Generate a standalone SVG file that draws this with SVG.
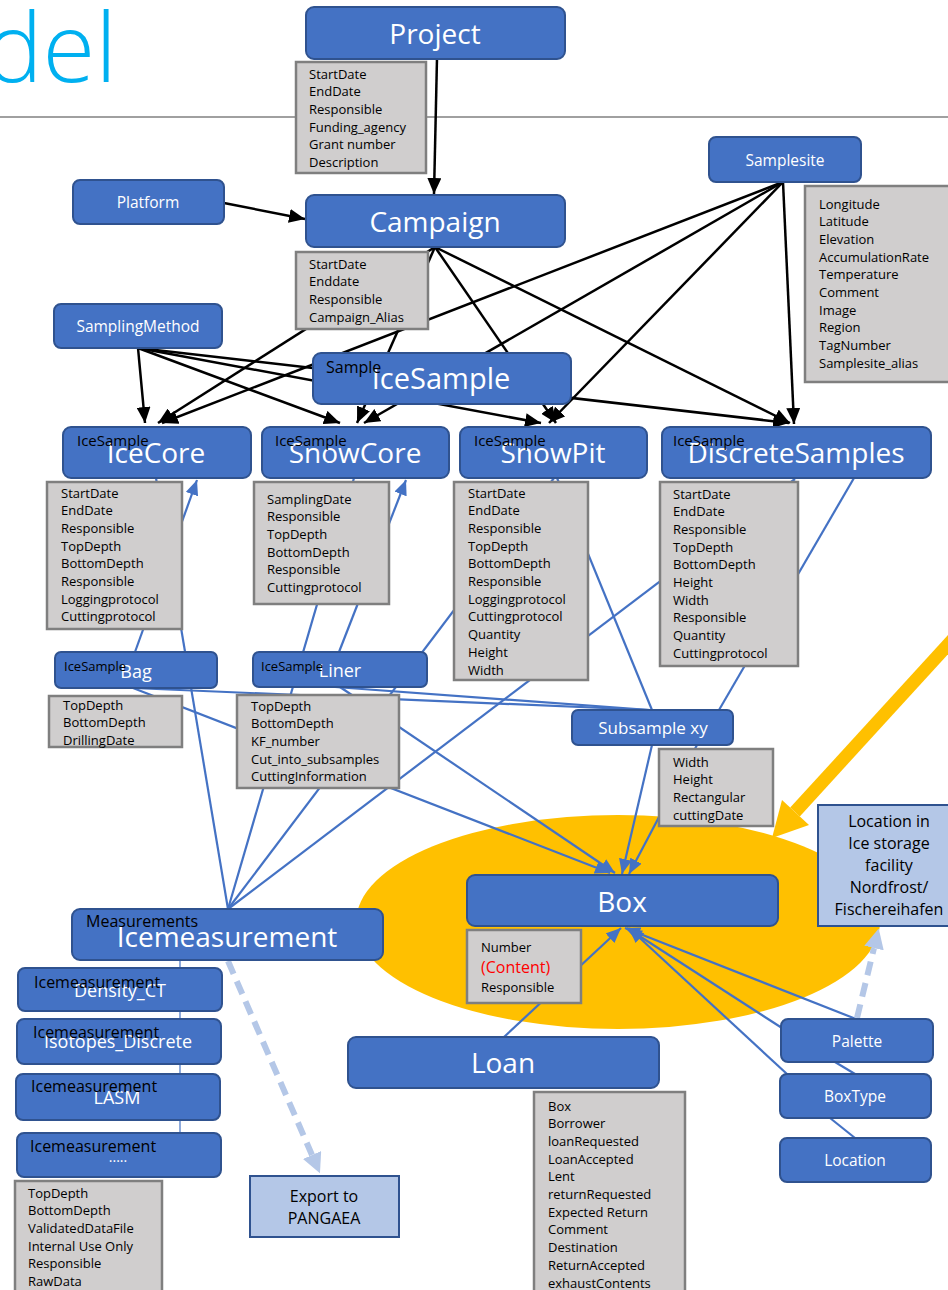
<svg xmlns="http://www.w3.org/2000/svg" width="948" height="1290" viewBox="0 0 948 1290">
<defs>
<style>
.n{fill:#4472C4;stroke:#2F528F;stroke-width:2}
.a{fill:#D0CECE;stroke:#7F7F7F;stroke-width:2.5}
.lb{fill:#B4C7E7;stroke:#2F528F;stroke-width:2}
text{font-family:"Open Sans","Liberation Sans",sans-serif}
.w{fill:#fff}
.k{fill:#000}
.c{text-anchor:middle}
.big{font-size:28px}
.md{font-size:18px}
.sm{font-size:15.5px}
.ov{font-size:15px}
.at{font-size:13px;fill:#000}
.bl{stroke:#000;stroke-width:2.5;fill:none;marker-end:url(#ak)}
.bu{stroke:#4472C4;stroke-width:2.2;fill:none}
.ba{marker-end:url(#ab)}
.dl{stroke:#B4C7E7;stroke-width:6;fill:none;stroke-dasharray:14 8;marker-end:url(#al)}
</style>
<marker id="ak" markerUnits="userSpaceOnUse" markerWidth="16" markerHeight="14" viewBox="0 0 16 14" refX="16" refY="7" orient="auto"><path d="M0,0 L16,7 L0,14 z" fill="#000"/></marker>
<marker id="ab" markerUnits="userSpaceOnUse" markerWidth="15" markerHeight="13" viewBox="0 0 15 13" refX="15" refY="6.5" orient="auto"><path d="M0,0 L15,6.5 L0,13 z" fill="#4472C4"/></marker>
<marker id="al" markerUnits="userSpaceOnUse" markerWidth="20" markerHeight="20" viewBox="0 0 20 20" refX="0" refY="10" orient="auto"><path d="M0,0 L20,10 L0,20 z" fill="#B4C7E7"/></marker>
</defs>
<rect width="948" height="1290" fill="#fff"/>
<ellipse cx="618" cy="922" rx="262" ry="107" fill="#FFC000"/>
<line x1="0" y1="117" x2="948" y2="117" stroke="#808080" stroke-width="1.7"/>
<text x="117" y="82" font-size="96" fill="#00B0F0" text-anchor="end" font-weight="300">del</text>

<g id="bigarrow">
<line x1="965" y1="626" x2="795" y2="812" stroke="#FFC000" stroke-width="13"/>
<polygon points="772,838 782,800 809,825" fill="#FFC000"/>
</g>

<g id="connectors">
<line class="bl" x1="437" y1="58" x2="434" y2="194"/>
<line class="bl" x1="224" y1="203" x2="305" y2="219"/>
<line class="bl" x1="783" y1="182" x2="162" y2="423"/>
<line class="bl" x1="783" y1="182" x2="364" y2="423"/>
<line class="bl" x1="783" y1="182" x2="549" y2="423"/>
<line class="bl" x1="783" y1="182" x2="794" y2="424"/>
<line class="bl" x1="435" y1="247" x2="158" y2="423"/>
<line class="bl" x1="435" y1="247" x2="357" y2="423"/>
<line class="bl" x1="435" y1="247" x2="556" y2="423"/>
<line class="bl" x1="435" y1="247" x2="790" y2="423"/>
<line class="bl" x1="138" y1="348" x2="145" y2="423"/>
<line class="bl" x1="138" y1="348" x2="340" y2="423"/>
<line class="bl" x1="138" y1="348" x2="541" y2="423"/>
<line class="bl" x1="138" y1="348" x2="789" y2="423"/>

<line class="bu ba" x1="135" y1="652" x2="197" y2="480"/>
<line class="bu ba" x1="339" y1="652" x2="406" y2="480"/>
<line class="bu" x1="228" y1="909" x2="156" y2="478"/>
<line class="bu" x1="228" y1="909" x2="354" y2="478"/>
<line class="bu" x1="228" y1="909" x2="554" y2="478"/>
<line class="bu" x1="228" y1="909" x2="795" y2="479"/>
<line class="bu" x1="854" y1="478" x2="719" y2="710"/>
<line class="bu" x1="557" y1="478" x2="652" y2="710"/>
<line class="bu" x1="133" y1="688" x2="650" y2="710"/>
<line class="bu" x1="335" y1="687" x2="650" y2="710"/>
<line class="bu ba" x1="133" y1="688" x2="610" y2="873"/>
<line class="bu ba" x1="340" y1="687" x2="615" y2="873"/>
<line class="bu ba" x1="652" y1="745" x2="622" y2="874"/>
<line class="bu ba" x1="697" y1="745" x2="629" y2="874"/>
<line class="bu ba" x1="504" y1="1037" x2="621" y2="928"/>
<line class="bu ba" x1="856" y1="1019" x2="625" y2="928"/>
<line class="bu ba" x1="782" y1="1028" x2="627" y2="928"/>
<line class="bu ba" x1="787" y1="1074" x2="629" y2="928"/>
<line class="bu" x1="835" y1="1062" x2="855" y2="1074"/>
<line class="bu" x1="830" y1="1118" x2="855" y2="1138"/>
<line x1="180" y1="960" x2="180" y2="1133" stroke="#4472C4" stroke-width="1.2"/>
<line class="dl" x1="228" y1="961" x2="312" y2="1155"/>
<line class="dl" x1="857" y1="1018" x2="874" y2="948"/>
</g>

<g id="project">
<rect class="n" x="306" y="7" width="259" height="52" rx="8"/>
<text class="w big c" x="435" y="44">Project</text>
<rect class="a" x="296" y="62" width="130" height="111"/>
<text class="at" x="309" y="78.5"><tspan x="309">StartDate</tspan><tspan x="309" dy="17.7">EndDate</tspan><tspan x="309" dy="17.7">Responsible</tspan><tspan x="309" dy="17.7">Funding_agency</tspan><tspan x="309" dy="17.7">Grant number</tspan><tspan x="309" dy="17.7">Description</tspan></text>
</g>

<g id="platform">
<rect class="n" x="73" y="180" width="151" height="44" rx="7"/>
<text class="w sm c" x="148" y="208">Platform</text>
</g>

<g id="campaign">
<rect class="n" x="306" y="195" width="259" height="52" rx="8"/>
<text class="w big c" x="435" y="232">Campaign</text>
<rect class="a" x="296" y="252" width="132" height="77"/>
<text class="at" x="309" y="268.5"><tspan x="309">StartDate</tspan><tspan x="309" dy="17.7">Enddate</tspan><tspan x="309" dy="17.7">Responsible</tspan><tspan x="309" dy="17.7">Campaign_Alias</tspan></text>
</g>

<g id="samplesite">
<rect class="n" x="709" y="137" width="152" height="45" rx="7"/>
<text class="w sm c" x="785" y="166">Samplesite</text>
<rect class="a" x="805" y="186" width="150" height="196"/>
<text class="at" x="819" y="208.5"><tspan x="819">Longitude</tspan><tspan x="819" dy="17.7">Latitude</tspan><tspan x="819" dy="17.7">Elevation</tspan><tspan x="819" dy="17.7">AccumulationRate</tspan><tspan x="819" dy="17.7">Temperature</tspan><tspan x="819" dy="17.7">Comment</tspan><tspan x="819" dy="17.7">Image</tspan><tspan x="819" dy="17.7">Region</tspan><tspan x="819" dy="17.7">TagNumber</tspan><tspan x="819" dy="17.7">Samplesite_alias</tspan></text>
</g>

<g id="samplingmethod">
<rect class="n" x="54" y="304" width="168" height="44" rx="7"/>
<text class="w sm c" x="138" y="332">SamplingMethod</text>
</g>

<g id="icesample">
<rect class="n" x="313" y="353" width="258" height="51" rx="8"/>
<text class="w c" font-size="29" x="441" y="389">IceSample</text>
<text class="k" font-size="16" x="326" y="373">Sample</text>
</g>

<g id="icecore">
<rect class="n" x="63" y="427" width="188" height="51" rx="8"/>
<text class="w big c" x="156" y="463">IceCore</text>
<text class="k ov" x="77" y="446">IceSample</text>
<rect class="a" x="47" y="482" width="135" height="147"/>
<text class="at" x="61" y="497.5"><tspan x="61">StartDate</tspan><tspan x="61" dy="17.7">EndDate</tspan><tspan x="61" dy="17.7">Responsible</tspan><tspan x="61" dy="17.7">TopDepth</tspan><tspan x="61" dy="17.7">BottomDepth</tspan><tspan x="61" dy="17.7">Responsible</tspan><tspan x="61" dy="17.7">Loggingprotocol</tspan><tspan x="61" dy="17.7">Cuttingprotocol</tspan></text>
</g>

<g id="snowcore">
<rect class="n" x="262" y="427" width="187" height="51" rx="8"/>
<text class="w big c" x="355" y="463">SnowCore</text>
<text class="k ov" x="275" y="446">IceSample</text>
<rect class="a" x="254" y="482" width="135" height="122"/>
<text class="at" x="267" y="503.5"><tspan x="267">SamplingDate</tspan><tspan x="267" dy="17.7">Responsible</tspan><tspan x="267" dy="17.7">TopDepth</tspan><tspan x="267" dy="17.7">BottomDepth</tspan><tspan x="267" dy="17.7">Responsible</tspan><tspan x="267" dy="17.7">Cuttingprotocol</tspan></text>
</g>

<g id="snowpit">
<rect class="n" x="460" y="427" width="187" height="51" rx="8"/>
<text class="w big c" x="553" y="463">SnowPit</text>
<text class="k ov" x="474" y="446">IceSample</text>
<rect class="a" x="454" y="482" width="134" height="198"/>
<text class="at" x="468" y="497.5"><tspan x="468">StartDate</tspan><tspan x="468" dy="17.7">EndDate</tspan><tspan x="468" dy="17.7">Responsible</tspan><tspan x="468" dy="17.7">TopDepth</tspan><tspan x="468" dy="17.7">BottomDepth</tspan><tspan x="468" dy="17.7">Responsible</tspan><tspan x="468" dy="17.7">Loggingprotocol</tspan><tspan x="468" dy="17.7">Cuttingprotocol</tspan><tspan x="468" dy="17.7">Quantity</tspan><tspan x="468" dy="17.7">Height</tspan><tspan x="468" dy="17.7">Width</tspan></text>
</g>

<g id="discretesamples">
<rect class="n" x="662" y="427" width="269" height="51" rx="8"/>
<text class="w big c" x="796" y="463">DiscreteSamples</text>
<text class="k ov" x="673" y="446">IceSample</text>
<rect class="a" x="660" y="482" width="138" height="184"/>
<text class="at" x="673" y="498.5"><tspan x="673">StartDate</tspan><tspan x="673" dy="17.7">EndDate</tspan><tspan x="673" dy="17.7">Responsible</tspan><tspan x="673" dy="17.7">TopDepth</tspan><tspan x="673" dy="17.7">BottomDepth</tspan><tspan x="673" dy="17.7">Height</tspan><tspan x="673" dy="17.7">Width</tspan><tspan x="673" dy="17.7">Responsible</tspan><tspan x="673" dy="17.7">Quantity</tspan><tspan x="673" dy="17.7">Cuttingprotocol</tspan></text>
</g>

<g id="bag">
<rect class="n" x="55" y="652" width="162" height="36" rx="6"/>
<text class="w md c" x="136" y="678">Bag</text>
<text class="k" font-size="13" x="64" y="671">IceSample</text>
<rect class="a" x="49" y="696" width="133" height="51"/>
<text class="at" x="63" y="709.5"><tspan x="63">TopDepth</tspan><tspan x="63" dy="17.7">BottomDepth</tspan><tspan x="63" dy="17.7">DrillingDate</tspan></text>
</g>

<g id="liner">
<rect class="n" x="253" y="652" width="174" height="35" rx="6"/>
<text class="w md c" x="340" y="677">Liner</text>
<text class="k" font-size="13" x="261" y="671">IceSample</text>
<rect class="a" x="237" y="695" width="162" height="93"/>
<text class="at" x="251" y="710.5"><tspan x="251">TopDepth</tspan><tspan x="251" dy="17.7">BottomDepth</tspan><tspan x="251" dy="17.7">KF_number</tspan><tspan x="251" dy="17.7">Cut_into_subsamples</tspan><tspan x="251" dy="17.7">CuttingInformation</tspan></text>
</g>

<g id="subsample">
<rect class="n" x="572" y="710" width="161" height="35" rx="6"/>
<text class="w c" font-size="17" x="653" y="734">Subsample xy</text>
<rect class="a" x="659" y="749" width="114" height="77"/>
<text class="at" x="673" y="766.5"><tspan x="673">Width</tspan><tspan x="673" dy="17.7">Height</tspan><tspan x="673" dy="17.7">Rectangular</tspan><tspan x="673" dy="17.7">cuttingDate</tspan></text>
</g>

<g id="storage">
<rect class="lb" x="818" y="805" width="136" height="121"/>
<text class="k c" font-size="16" x="889" y="827"><tspan x="889">Location in</tspan><tspan x="889" dy="22">Ice storage</tspan><tspan x="889" dy="22">facility</tspan><tspan x="889" dy="22">Nordfrost/</tspan><tspan x="889" dy="22">Fischereihafen</tspan></text>
</g>

<g id="box">
<rect class="n" x="467" y="875" width="311" height="51" rx="8"/>
<text class="w big c" x="622" y="912">Box</text>
<rect class="a" x="467" y="930" width="114" height="73"/>
<text class="at" x="481" y="951.5">Number</text>
<text x="481" y="973" font-size="16" fill="#FF0000">(Content)</text>
<text class="at" x="481" y="991.5">Responsible</text>
</g>

<g id="icemeasurement">
<rect class="n" x="72" y="909" width="311" height="51" rx="8"/>
<text class="w big c" x="227" y="947">Icemeasurement</text>
<text class="k" font-size="16" x="86" y="927">Measurements</text>
</g>

<g id="density">
<rect class="n" x="18" y="968" width="204" height="43" rx="7"/>
<text class="w md c" x="120" y="997">Density_CT</text>
<text class="k" font-size="16" x="34" y="988">Icemeasurement</text>
</g>

<g id="isotopes">
<rect class="n" x="17" y="1019" width="204" height="45" rx="7"/>
<text class="w md c" x="118" y="1048">Isotopes_Discrete</text>
<text class="k" font-size="16" x="33" y="1038">Icemeasurement</text>
</g>

<g id="lasm">
<rect class="n" x="16" y="1074" width="204" height="46" rx="7"/>
<text class="w md c" x="117" y="1104">LASM</text>
<text class="k" font-size="16" x="31" y="1092">Icemeasurement</text>
</g>

<g id="more">
<rect class="n" x="17" y="1133" width="204" height="44" rx="7"/>
<text class="w c" font-size="14" x="118" y="1162">.....</text>
<text class="k" font-size="16" x="30" y="1152">Icemeasurement</text>
<rect class="a" x="15" y="1181" width="147" height="115"/>
<text class="at" x="28" y="1197.5"><tspan x="28">TopDepth</tspan><tspan x="28" dy="17.7">BottomDepth</tspan><tspan x="28" dy="17.7">ValidatedDataFile</tspan><tspan x="28" dy="17.7">Internal Use Only</tspan><tspan x="28" dy="17.7">Responsible</tspan><tspan x="28" dy="17.7">RawData</tspan></text>
</g>

<g id="export">
<rect class="lb" x="250" y="1176" width="149" height="61"/>
<text class="k c" font-size="16" x="324" y="1202"><tspan x="324">Export to</tspan><tspan x="324" dy="22">PANGAEA</tspan></text>
</g>

<g id="loan">
<rect class="n" x="348" y="1037" width="311" height="51" rx="8"/>
<text class="w big c" x="503" y="1073">Loan</text>
<rect class="a" x="534" y="1092" width="151" height="205"/>
<text class="at" x="548" y="1110.5"><tspan x="548">Box</tspan><tspan x="548" dy="17.7">Borrower</tspan><tspan x="548" dy="17.7">loanRequested</tspan><tspan x="548" dy="17.7">LoanAccepted</tspan><tspan x="548" dy="17.7">Lent</tspan><tspan x="548" dy="17.7">returnRequested</tspan><tspan x="548" dy="17.7">Expected Return</tspan><tspan x="548" dy="17.7">Comment</tspan><tspan x="548" dy="17.7">Destination</tspan><tspan x="548" dy="17.7">ReturnAccepted</tspan><tspan x="548" dy="17.7">exhaustContents</tspan></text>
</g>

<g id="palette">
<rect class="n" x="781" y="1019" width="152" height="43" rx="7"/>
<text class="w sm c" x="857" y="1047">Palette</text>
</g>
<g id="boxtype">
<rect class="n" x="780" y="1074" width="151" height="44" rx="7"/>
<text class="w sm c" x="855" y="1102">BoxType</text>
</g>
<g id="location">
<rect class="n" x="780" y="1138" width="151" height="44" rx="7"/>
<text class="w sm c" x="855" y="1166">Location</text>
</g>
</svg>
